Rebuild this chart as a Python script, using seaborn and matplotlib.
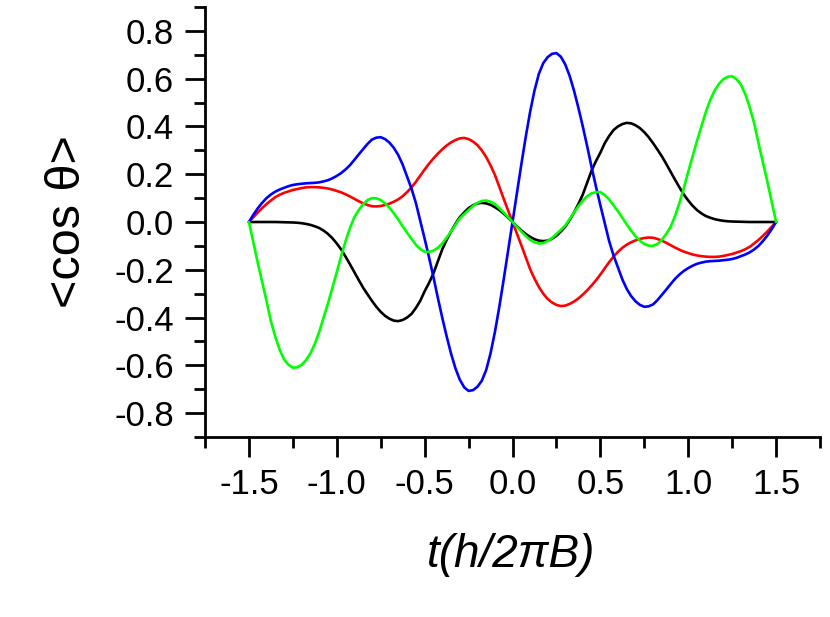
import numpy as np
import matplotlib
matplotlib.use("Agg")
import matplotlib.pyplot as plt
from matplotlib.ticker import MultipleLocator, FormatStrFormatter
import seaborn as sns

# time grid t (units of h/2piB), step 0.025
t = np.round(np.linspace(-1.5, 1.5, 121), 3)

black = [0, 0, 0, 0, 0, 0, 0, -0.0005, -0.001, -0.0015,
         -0.002, -0.003, -0.005, -0.008, -0.012, -0.018, -0.025, -0.036, -0.05, -0.068,
         -0.09, -0.115, -0.145, -0.177, -0.21, -0.243, -0.275, -0.303, -0.33, -0.355,
         -0.376, -0.393, -0.405, -0.413, -0.415, -0.41, -0.40, -0.385, -0.36, -0.33,
         -0.29, -0.255, -0.215, -0.165, -0.115, -0.075, -0.04, -0.008, 0.02, 0.04,
         0.058, 0.07, 0.078, 0.08, 0.078, 0.072, 0.062, 0.05, 0.035, 0.018,
         0,
         -0.018, -0.035, -0.05, -0.062, -0.072, -0.078, -0.08, -0.078, -0.07, -0.058,
         -0.04, -0.02, 0.008, 0.04, 0.075, 0.115, 0.165, 0.215, 0.255, 0.29,
         0.33, 0.36, 0.385, 0.40, 0.41, 0.415, 0.413, 0.405, 0.393, 0.376,
         0.355, 0.33, 0.303, 0.275, 0.243, 0.21, 0.177, 0.145, 0.115, 0.09,
         0.068, 0.05, 0.036, 0.025, 0.018, 0.012, 0.008, 0.005, 0.003, 0.002,
         0.0015, 0.001, 0.0005, 0, 0, 0, 0, 0, 0, 0]

green = [0, -0.085, -0.17, -0.25, -0.33, -0.415, -0.48, -0.535, -0.575, -0.598,
         -0.61, -0.608, -0.598, -0.578, -0.55, -0.51, -0.46, -0.40, -0.34, -0.275,
         -0.21, -0.142, -0.08, -0.025, 0.02, 0.05, 0.075, 0.092, 0.10, 0.099,
         0.092, 0.078, 0.06, 0.036, 0.01, -0.018, -0.045, -0.07, -0.095, -0.113,
         -0.125, -0.125, -0.12, -0.108, -0.09, -0.066, -0.04, -0.012, 0.015, 0.033,
         0.05, 0.067, 0.08, 0.088, 0.09, 0.085, 0.075, 0.058, 0.04, 0.02,
         0,
         -0.02, -0.04, -0.058, -0.075, -0.085, -0.09, -0.088, -0.08, -0.067, -0.05,
         -0.033, -0.015, 0.012, 0.04, 0.066, 0.09, 0.108, 0.12, 0.125, 0.125,
         0.113, 0.095, 0.07, 0.045, 0.018, -0.01, -0.036, -0.06, -0.078, -0.092,
         -0.099, -0.10, -0.092, -0.075, -0.05, -0.02, 0.025, 0.08, 0.142, 0.21,
         0.275, 0.34, 0.40, 0.46, 0.51, 0.55, 0.578, 0.598, 0.608, 0.61,
         0.598, 0.575, 0.535, 0.48, 0.415, 0.33, 0.25, 0.17, 0.085, 0]

red = [0, 0.02, 0.04, 0.058, 0.075, 0.09, 0.104, 0.114, 0.122, 0.128,
       0.134, 0.138, 0.142, 0.145, 0.146, 0.146, 0.145, 0.143, 0.14, 0.136,
       0.13, 0.124, 0.116, 0.107, 0.097, 0.087, 0.078, 0.071, 0.066, 0.065,
       0.067, 0.071, 0.077, 0.085, 0.095, 0.108, 0.125, 0.145, 0.168, 0.194,
       0.22, 0.244, 0.266, 0.286, 0.304, 0.32, 0.333, 0.343, 0.35, 0.352,
       0.347, 0.337, 0.322, 0.30, 0.272, 0.237, 0.197, 0.147, 0.097, 0.048,
       0,
       -0.048, -0.097, -0.147, -0.197, -0.237, -0.272, -0.30, -0.322, -0.337, -0.347,
       -0.352, -0.35, -0.343, -0.333, -0.32, -0.304, -0.286, -0.266, -0.244, -0.22,
       -0.194, -0.168, -0.145, -0.125, -0.108, -0.095, -0.085, -0.077, -0.071, -0.067,
       -0.065, -0.066, -0.071, -0.078, -0.087, -0.097, -0.107, -0.116, -0.124, -0.13,
       -0.136, -0.14, -0.143, -0.145, -0.146, -0.146, -0.145, -0.142, -0.138, -0.134,
       -0.128, -0.122, -0.114, -0.104, -0.09, -0.075, -0.058, -0.04, -0.02, 0]

blue = [0, 0.03, 0.057, 0.08, 0.10, 0.115, 0.127, 0.136, 0.143, 0.15,
        0.155, 0.158, 0.16, 0.162, 0.163, 0.164, 0.166, 0.17, 0.175, 0.183,
        0.193, 0.205, 0.22, 0.238, 0.26, 0.283, 0.305, 0.327, 0.345, 0.353,
        0.355, 0.347, 0.332, 0.31, 0.28, 0.24, 0.19, 0.14, 0.08, 0.005,
        -0.07, -0.148, -0.23, -0.317, -0.40, -0.478, -0.55, -0.612, -0.66, -0.692,
        -0.707, -0.704, -0.69, -0.665, -0.62, -0.55, -0.46, -0.355, -0.24, -0.12,
        0,
        0.12, 0.24, 0.355, 0.46, 0.55, 0.62, 0.665, 0.69, 0.704, 0.707,
        0.692, 0.66, 0.612, 0.55, 0.478, 0.40, 0.317, 0.23, 0.148, 0.07,
        -0.005, -0.08, -0.14, -0.19, -0.24, -0.28, -0.31, -0.332, -0.347, -0.355,
        -0.353, -0.345, -0.327, -0.305, -0.283, -0.26, -0.238, -0.22, -0.205, -0.193,
        -0.183, -0.175, -0.17, -0.166, -0.164, -0.163, -0.162, -0.16, -0.158, -0.155,
        -0.15, -0.143, -0.136, -0.127, -0.115, -0.10, -0.08, -0.057, -0.03, 0]

series = [(black, "#000000"), (red, "#ff0000"), (blue, "#0000ff"), (green, "#00ff00")]

sns.set_style("ticks")
plt.rcParams["font.family"] = ["Liberation Sans", "DejaVu Sans"]
plt.rcParams["axes.unicode_minus"] = False
for key in ["text.color", "axes.labelcolor", "xtick.color", "ytick.color", "axes.edgecolor"]:
    plt.rcParams[key] = "black"

fig = plt.figure(figsize=(8.3, 6.17), dpi=100)
ax = fig.add_axes([205 / 830, 1 - 437 / 617, 615 / 830, 430 / 617])

for vals, col in series:
    sns.lineplot(x=t, y=vals, color=col, linewidth=1.9, ax=ax)

ax.set_xlim(-1.75, 1.75)
ax.set_ylim(-0.9, 0.9)
ax.xaxis.set_major_locator(MultipleLocator(0.5))
ax.xaxis.set_minor_locator(MultipleLocator(0.25))
ax.yaxis.set_major_locator(MultipleLocator(0.2))
ax.yaxis.set_minor_locator(MultipleLocator(0.1))
ax.xaxis.set_major_formatter(FormatStrFormatter("%.1f"))
ax.yaxis.set_major_formatter(FormatStrFormatter("%.1f"))

for side in ["top", "right"]:
    ax.spines[side].set_visible(False)
for side in ["left", "bottom"]:
    ax.spines[side].set_linewidth(2.0)
    ax.spines[side].set_color("black")

ax.tick_params(which="major", direction="out", length=14.5, width=2.0, labelsize=25,
               color="black", labelcolor="black")
ax.tick_params(which="minor", direction="out", length=8, width=2.0, color="black")
ax.tick_params(axis="x", which="major", pad=8)
ax.tick_params(axis="y", which="major", pad=8)

ax.set_xlabel("t(h/2πB)", fontsize=33, style="italic", color="black")
ax.xaxis.set_label_coords(0.497, -0.274)
ax.xaxis.label.set_verticalalignment("center")
ax.set_ylabel("<cos θ>", fontsize=35, color="black")
ax.yaxis.set_label_coords(-0.224, 0.5)
ax.yaxis.label.set_verticalalignment("center")

fig.savefig("out.png", dpi=100)
